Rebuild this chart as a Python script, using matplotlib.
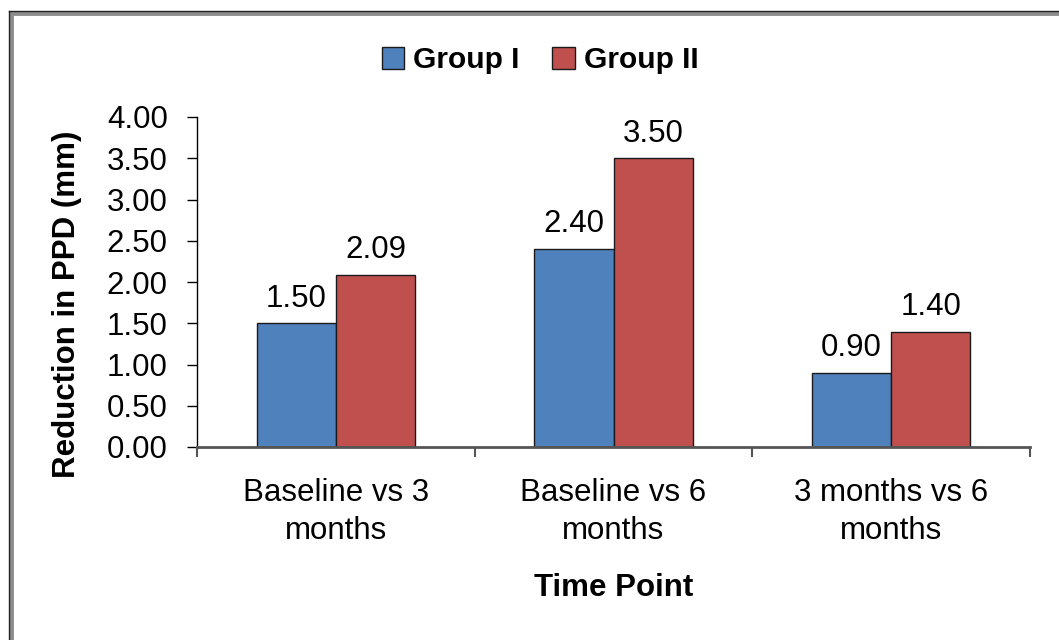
import numpy as np
import matplotlib
matplotlib.use('Agg')
import matplotlib.pyplot as plt
from matplotlib.lines import Line2D
from matplotlib.patches import Patch
from matplotlib.ticker import FormatStrFormatter

plt.rcParams['font.family'] = ['Liberation Sans', 'DejaVu Sans']

# data
categories = ['Baseline vs 3\nmonths', 'Baseline vs 6\nmonths', '3 months vs 6\nmonths']
group1 = [1.50, 2.40, 0.90]
group2 = [2.09, 3.50, 1.40]
series_names = ['Group I', 'Group II']
colors = ['#4F81BD', '#C0504D']

W, H = 1059, 640
fig = plt.figure(figsize=(W / 100, H / 100), dpi=100)
ax = fig.add_axes([197 / W, 1 - 447 / H, (1030 - 197) / W, (447 - 117) / H])

fs = 22.5

x = np.arange(len(categories))
bw = 0.285
b1 = ax.bar(x - bw / 2, group1, bw, color=colors[0], edgecolor='#1a1a1a', linewidth=1)
b2 = ax.bar(x + bw / 2, group2, bw, color=colors[1], edgecolor='#1a1a1a', linewidth=1)

for bars in (b1, b2):
    for rect in bars:
        h = rect.get_height()
        ax.annotate('%.2f' % h, (rect.get_x() + rect.get_width() / 2, h),
                    xytext=(0, 7), textcoords='offset points',
                    ha='center', va='bottom', fontsize=fs)

ax.set_xlim(-0.5, 2.5)
ax.set_ylim(0, 4)
ax.set_yticks(np.arange(0, 4.01, 0.5))
ax.yaxis.set_major_formatter(FormatStrFormatter('%.2f'))
ax.tick_params(axis='y', direction='out', length=7, width=1, pad=14, labelsize=fs, color='black')

ax.set_xticks(x)
ax.set_xticklabels(categories, fontsize=fs, linespacing=1.35)
ax.tick_params(axis='x', which='major', length=0, pad=22)
ax.set_xticks([-0.5, 0.5, 1.5, 2.5], minor=True)
ax.tick_params(axis='x', which='minor', direction='out', length=7, width=1.5, color='#555555')

for s in ['top', 'right']:
    ax.spines[s].set_visible(False)
ax.spines['bottom'].set_color('#555555')
ax.spines['bottom'].set_linewidth(2)
ax.spines['left'].set_color('black')
ax.spines['left'].set_linewidth(1)

fig.text(67 / W, 1 - 304 / H, 'Reduction in PPD (mm)', rotation=90, ha='center', va='center',
         fontsize=fs, fontweight='bold')
fig.text(614 / W, 1 - 588 / H, 'Time Point', ha='center', va='center',
         fontsize=fs, fontweight='bold')

handles = [Patch(facecolor=c, edgecolor='#1a1a1a', linewidth=1) for c in colors]
fig.legend(handles, series_names, loc='center', bbox_to_anchor=(540 / W, 1 - 60 / H),
           ncol=2, frameon=False, prop={'weight': 'bold', 'size': 21.5},
           handlelength=0.75, handleheight=0.75, handletextpad=0.3, columnspacing=1.1)

# outer chart frame (cropped on the right and bottom)
fig.add_artist(Line2D([10.5 / W, 10.5 / W], [0, 1 - 12.5 / H], transform=fig.transFigure,
                      color='#8c8c8c', linewidth=3.5))
fig.add_artist(Line2D([10.5 / W, 1], [1 - 12.5 / H, 1 - 12.5 / H], transform=fig.transFigure,
                      color='#8c8c8c', linewidth=3.5))
fig.add_artist(Line2D([8.5 / W, 8.5 / W], [0, 1 - 10.5 / H], transform=fig.transFigure,
                      color='#222222', linewidth=1))
fig.add_artist(Line2D([8.5 / W, 1], [1 - 10.5 / H, 1 - 10.5 / H], transform=fig.transFigure,
                      color='#222222', linewidth=1))

fig.savefig('out.png', dpi=100)
